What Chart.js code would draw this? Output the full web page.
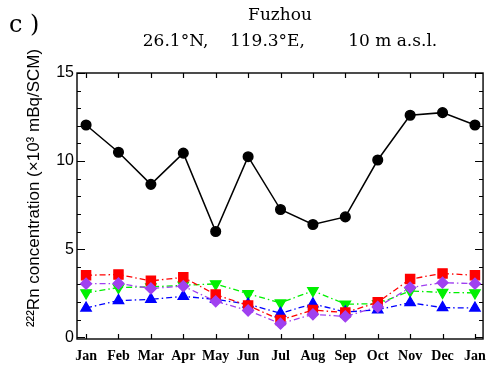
<!DOCTYPE html>
<html>
<head>
<meta charset="utf-8">
<script src="https://cdn.jsdelivr.net/npm/chart.js@4.4.1/dist/chart.umd.min.js"></script>
<style>
  html, body { margin: 0; padding: 0; background: #fff; }
  #wrap { width: 495px; height: 374px; position: relative; }
</style>
</head>
<body>
<div id="wrap"><canvas id="rnChart"></canvas></div>
<script>
// months (Jan repeated at the end, as in the figure)
const months = ["Jan", "Feb", "Mar", "Apr", "May", "Jun", "Jul", "Aug", "Sep", "Oct", "Nov", "Dec", "Jan"];

// 222Rn concentration, x10^3 mBq/SCM
const observed = [12.05, 10.5, 8.68, 10.45, 6.0, 10.25, 7.25, 6.4, 6.83, 10.06, 12.6, 12.75, 12.05];
const redSeries = [3.52, 3.56, 3.2, 3.4, 2.42, 1.8, 0.98, 1.54, 1.4, 1.98, 3.3, 3.62, 3.52];
const purpleSeries = [3.04, 3.05, 2.77, 2.9, 2.04, 1.52, 0.77, 1.3, 1.18, 1.72, 2.82, 3.1, 3.04];
const greenSeries = [2.52, 2.82, 2.86, 2.95, 3.03, 2.47, 1.95, 2.64, 1.88, 1.9, 2.63, 2.54, 2.52];
const blueSeries = [1.66, 2.08, 2.15, 2.32, 2.15, 1.88, 1.36, 1.9, 1.43, 1.56, 1.96, 1.68, 1.66];

const yTicks = [0, 5, 10, 15];

const toXY = (vals) => vals.map((v, i) => ({ x: i, y: v }));
const dashDot = [6, 3, 1.5, 3];

// frame with inward ticks on all four sides
const framePlugin = {
  id: "frame",
  beforeDatasetsDraw(chart) {
    const { ctx, chartArea: a, scales } = chart;
    ctx.save();
    ctx.strokeStyle = "#000";
    ctx.lineWidth = 1.4;
    ctx.strokeRect(a.left, a.top, a.right - a.left, a.bottom - a.top);
    ctx.lineWidth = 1.2;
    ctx.beginPath();
    for (let v = 0; v <= 15; v++) {
      const y = Math.round(scales.y.getPixelForValue(v)) + 0.5;
      const len = v % 5 === 0 ? 8 : 4;
      ctx.moveTo(a.left, y); ctx.lineTo(a.left + len, y);
      ctx.moveTo(a.right, y); ctx.lineTo(a.right - len, y);
    }
    months.forEach((m, i) => {
      const x = Math.round(scales.x.getPixelForValue(i)) + 0.5;
      ctx.moveTo(x, a.bottom); ctx.lineTo(x, a.bottom - 5);
      ctx.moveTo(x, a.top); ctx.lineTo(x, a.top + 5);
    });
    ctx.stroke();
    ctx.restore();
  },
};

// panel letter, titles and the y axis label
const textPlugin = {
  id: "texts",
  afterDraw(chart) {
    const { ctx, chartArea: a } = chart;
    const cx = (a.left + a.right) / 2;
    ctx.save();
    ctx.fillStyle = "#000";
    ctx.textBaseline = "alphabetic";

    ctx.font = "24px 'DejaVu Serif'";
    ctx.textAlign = "left";
    ctx.fillText("c )", 9, 32);

    ctx.font = "17px 'DejaVu Serif'";
    ctx.textAlign = "center";
    ctx.fillText("Fuzhou", cx, 20);
    ctx.fillText("26.1°N,    119.3°E,        10 m a.s.l.", 290, 46);

    ctx.translate(34, 188);
    ctx.rotate(-Math.PI / 2);
    ctx.font = "17px 'Liberation Sans'";
    ctx.textBaseline = "middle";
    ctx.fillText("²²²Rn concentration (×10³ mBq/SCM)", 0, 0);
    ctx.restore();
  },
};

const ctx = document.getElementById("rnChart").getContext("2d");

new Chart(ctx, {
  type: "line",
  data: {
    datasets: [
      {
        label: "Observed",
        data: toXY(observed),
        borderColor: "#000",
        backgroundColor: "#000",
        borderWidth: 1.5,
        pointStyle: "circle",
        pointRadius: 4.8,
      },
      {
        label: "Model (purple)",
        data: toXY(purpleSeries),
        borderColor: "#a040f0",
        backgroundColor: "#a040f0",
        borderWidth: 1.3,
        borderDash: dashDot,
        pointStyle: "rectRot",
        pointRadius: 5.5,
      },
      {
        label: "Model (red)",
        data: toXY(redSeries),
        borderColor: "#ff0000",
        backgroundColor: "#ff0000",
        borderWidth: 1.3,
        borderDash: dashDot,
        pointStyle: "rect",
        pointRadius: 6.5,
      },
      {
        label: "Model (blue)",
        data: toXY(blueSeries),
        borderColor: "#0000ff",
        backgroundColor: "#0000ff",
        borderWidth: 1.3,
        borderDash: dashDot,
        pointStyle: "triangle",
        pointRadius: 6,
      },
      {
        label: "Model (green)",
        data: toXY(greenSeries),
        borderColor: "#00f000",
        backgroundColor: "#00f000",
        borderWidth: 1.3,
        borderDash: dashDot,
        pointStyle: "triangle",
        pointRotation: 180,
        pointRadius: 6,
      },
    ],
  },
  options: {
    responsive: true,
    maintainAspectRatio: false,
    animation: false,
    layout: { padding: { top: 73, right: 5, left: 0, bottom: 0 } },
    elements: { line: { tension: 0 }, point: { borderWidth: 1 } },
    plugins: {
      legend: { display: false },
      tooltip: { enabled: false },
    },
    scales: {
      x: {
        type: "linear",
        min: -0.28,
        max: 12.25,
        grid: { display: false, drawTicks: false },
        border: { display: false },
        afterBuildTicks: (axis) => {
          axis.ticks = months.map((m, i) => ({ value: i }));
        },
        afterFit: (axis) => { axis.height = 35; },
        ticks: {
          autoSkip: false,
          maxRotation: 0,
          padding: 9,
          color: "#000",
          font: { family: "'Liberation Serif'", size: 14, weight: "bold" },
          callback: (v) => months[v],
        },
      },
      y: {
        type: "linear",
        min: -0.1,
        max: 15,
        grid: { display: false, drawTicks: false },
        border: { display: false },
        afterBuildTicks: (axis) => {
          axis.ticks = yTicks.map((v) => ({ value: v }));
        },
        afterFit: (axis) => { axis.width = 77; },
        ticks: {
          padding: 3,
          color: "#000",
          font: { family: "'Liberation Sans'", size: 16 },
        },
      },
    },
  },
  plugins: [framePlugin, textPlugin],
});
</script>
</body>
</html>
